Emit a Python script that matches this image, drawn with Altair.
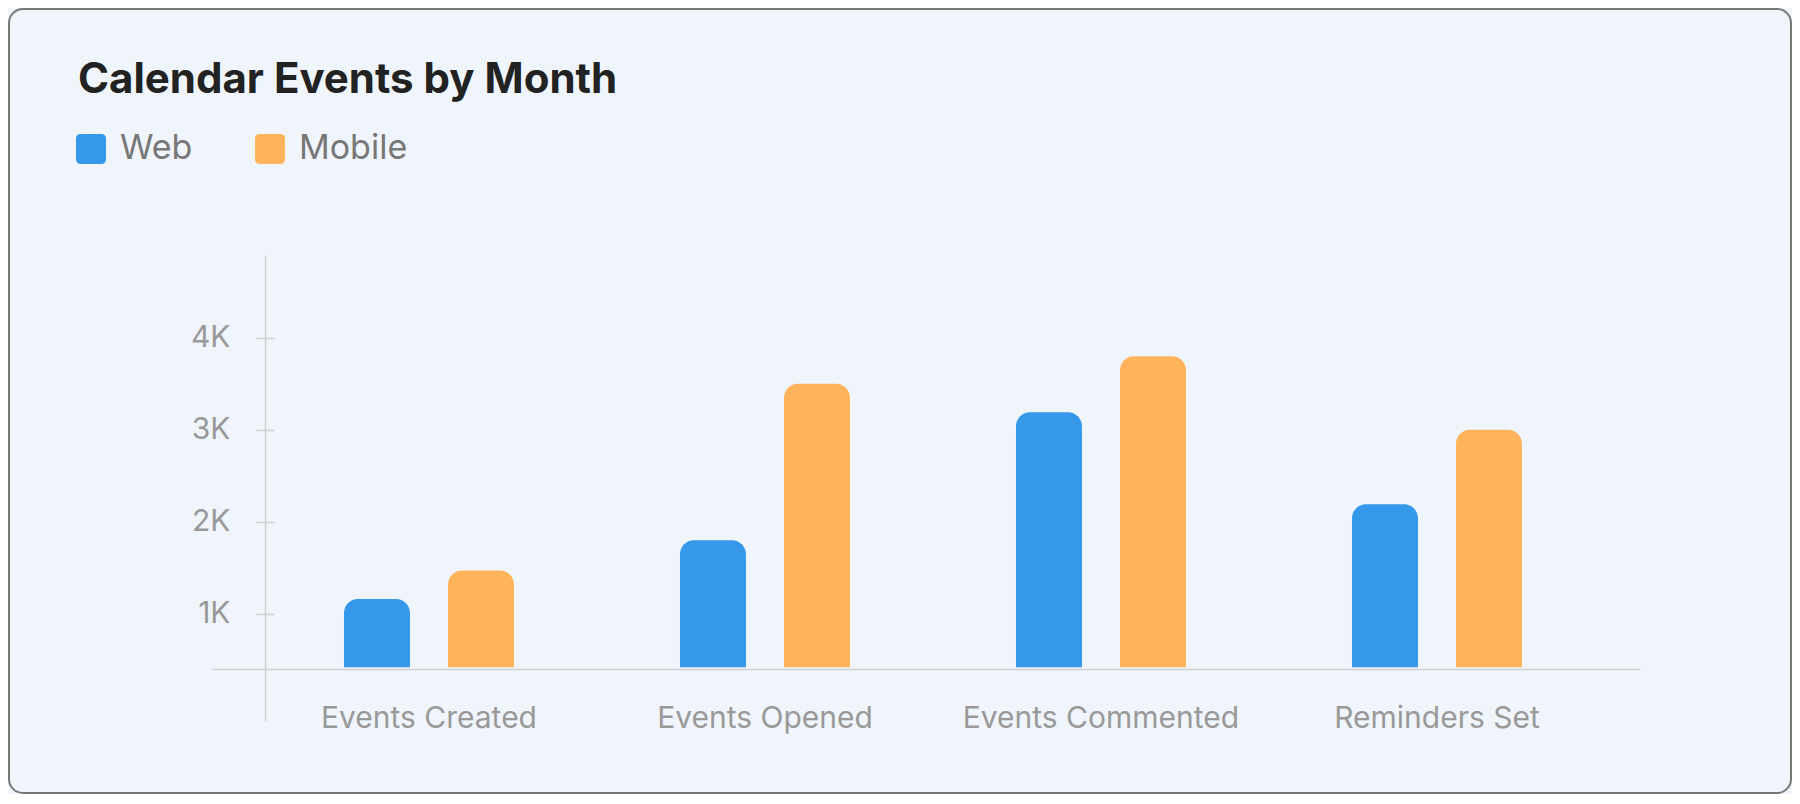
import altair as alt
import pandas as pd

# ---- data ----
categories = ["Events Created", "Events Opened", "Events Commented", "Reminders Set"]
series = ["Web", "Mobile"]
web_values = [1160, 1800, 3190, 2190]
mobile_values = [1470, 3500, 3800, 3000]
y_ticks = [1000, 2000, 3000, 4000]
colors = ["#3598EB", "#FFB45C"]

rows = []
for c, w, m in zip(categories, web_values, mobile_values):
    rows.append({"category": c, "series": "Web", "value": w})
    rows.append({"category": c, "series": "Mobile", "value": m})
df = pd.DataFrame(rows)

Y_MIN, Y_MAX = -165, 4900
BASE = 420
FONT = "Inter"
AXIS_COLOR = "#d0d0d0"
LABEL_COLOR = "#999999"

ROUNDED_SQUARE = ("M -0.67 -1 L 0.67 -1 Q 1 -1 1 -0.67 L 1 0.67 Q 1 1 0.67 1 "
                  "L -0.67 1 Q -1 1 -1 0.67 L -1 -0.67 Q -1 -1 -0.67 -1 Z")

y_scale = alt.Scale(domain=[Y_MIN, Y_MAX], nice=False, zero=False)

card = alt.Chart(pd.DataFrame({"k": [0]})).mark_rect(
    fillOpacity=0, stroke="#777777", strokeWidth=2, cornerRadius=14
).encode(
    x=alt.value(-203), x2=alt.value(1579), y=alt.value(-246), y2=alt.value(538)
)

bars = alt.Chart(df).mark_bar(
    cornerRadiusTopLeft=14, cornerRadiusTopRight=14
).encode(
    x=alt.X(
        "category:N", sort=categories,
        scale=alt.Scale(paddingInner=0, paddingOuter=0.125, align=0.583),
        axis=alt.Axis(
            title=None, labelAngle=0, ticks=False, tickSize=0,
            domainColor=AXIS_COLOR, domainWidth=1.5, offset=-52,
            labelPadding=58, labelBaseline="alphabetic", labelLimit=600,
            labelFontSize=30, labelColor=LABEL_COLOR, labelFont=FONT,
        ),
    ),
    xOffset=alt.XOffset(
        "series:N", sort=series,
        scale=alt.Scale(domain=series, paddingInner=0.3654, paddingOuter=0.798),
    ),
    y=alt.Y(
        "value:Q", scale=y_scale,
        axis=alt.Axis(
            title=None, values=y_ticks, labelExpr="datum.value / 1000 + 'K'",
            grid=False, offset=-53, tickSize=9, tickColor=AXIS_COLOR, tickWidth=1.5,
            domainColor=AXIS_COLOR, domainWidth=1.5, labelPadding=26,
            labelFontSize=30, labelColor=LABEL_COLOR, labelFont=FONT,
        ),
    ),
    y2=alt.Y2Datum(BASE),
    color=alt.Color(
        "series:N", sort=series,
        scale=alt.Scale(domain=series, range=colors),
        legend=alt.Legend(
            title=None, orient="none", legendX=-138, legendY=-123,
            direction="horizontal", symbolType=ROUNDED_SQUARE, symbolSize=900,
            symbolStrokeWidth=0, symbolOpacity=1,
            labelFontSize=34, labelColor="#777777", labelFont=FONT,
            labelOffset=12, columnPadding=60,
        ),
    ),
)

inner_ticks = alt.Chart(df).mark_point(opacity=0).encode(
    y=alt.Y(
        "value:Q", scale=y_scale,
        axis=alt.Axis(
            orient="left", title=None, values=y_ticks, labels=False, domain=False,
            grid=False, offset=-62, tickSize=9, tickColor=AXIS_COLOR, tickWidth=1.5,
        ),
    ),
)

chart = alt.layer(card, bars, inner_ticks).resolve_axis(y="independent").properties(
    width=1428,
    height=466,
    padding={"left": 204, "top": 247, "right": 152, "bottom": 73},
    autosize=alt.AutoSizeParams(type="none"),
    title=alt.Title(
        "Calendar Events by Month", anchor="start", frame="group", dx=-134, dy=98,
        font=FONT, fontSize=42, fontWeight="bold", color="#222222",
    ),
).configure(
    background="#F0F5FC",
).configure_view(stroke=None)

chart.save("out.html", embed_options={"renderer": "svg", "actions": False})
